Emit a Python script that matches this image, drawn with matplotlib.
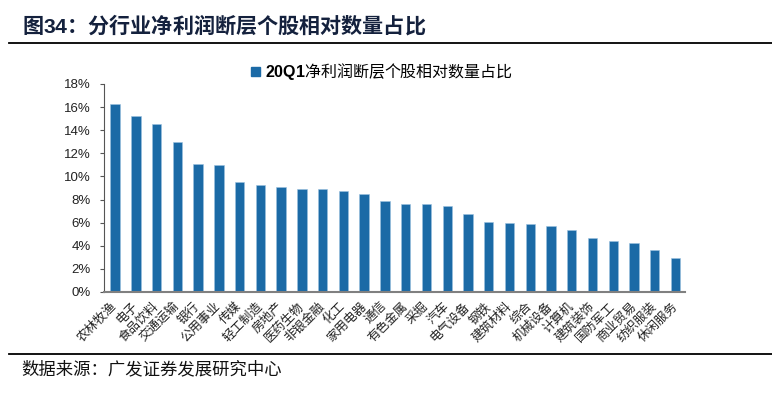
import numpy as np
import matplotlib

matplotlib.use('Agg')
import matplotlib.pyplot as plt
from matplotlib.patches import Patch
from matplotlib.ticker import PercentFormatter

plt.rcParams['font.family'] = ['Liberation Sans', 'Noto Sans CJK SC', 'DejaVu Sans']
plt.rcParams['axes.unicode_minus'] = False
plt.rcParams['mathtext.fontset'] = 'custom'
plt.rcParams['mathtext.bf'] = 'Liberation Sans:bold'

# 行业及20Q1净利润断层个股相对数量占比(%)
industries = ['农林牧渔', '电子', '食品饮料', '交通运输', '银行', '公用事业', '传媒',
              '轻工制造', '房地产', '医药生物', '非银金融', '化工', '家用电器', '通信',
              '有色金属', '采掘', '汽车', '电气设备', '钢铁', '建筑材料', '综合',
              '机械设备', '计算机', '建筑装饰', '国防军工', '商业贸易', '纺织服装', '休闲服务']
ratio = [16.3, 15.2, 14.5, 13.0, 11.1, 11.0, 9.5,
         9.25, 9.1, 8.95, 8.9, 8.7, 8.5, 7.85,
         7.65, 7.6, 7.45, 6.75, 6.1, 5.95, 5.9,
         5.75, 5.35, 4.65, 4.45, 4.2, 3.6, 2.95]
series_name = r'$\mathbf{20Q1}$净利润断层个股相对数量占比'

W, H = 772, 394
fig = plt.figure(figsize=(W / 100, H / 100), dpi=100)

bar_color = '#1B6AA6'
cjk = ['Noto Sans CJK SC', 'DejaVu Sans']

# 标题和上下分隔线
fig.text(22 / W, 1 - 25 / H, r'图$\mathbf{34}$：分行业净利润断层个股相对数量占比',
         family=cjk, weight='bold', fontsize=15.2, color='#14213D', va='center', ha='left')
fig.add_artist(plt.Line2D([9 / W, 1], [1 - 42.5 / H] * 2, color='black', lw=1.3))
fig.add_artist(plt.Line2D([9 / W, 1], [1 - 354 / H] * 2, color='black', lw=1.3))
fig.text(21 / W, 1 - 369 / H, '数据来源：广发证券发展研究中心',
         family=cjk, fontsize=12.5, color='#111111', va='center', ha='left')

ax = fig.add_axes([103.5 / W, 1 - 292 / H, (685 - 103.5) / W, (292 - 84) / H])
x = np.arange(len(industries))
ax.bar(x, ratio, width=0.45, color=bar_color, edgecolor='#9CC1E0', linewidth=0.4)

ax.set_xlim(-0.56, len(industries) - 0.54)
ax.set_ylim(0, 18)
ax.set_yticks(np.arange(0, 19, 2))
ax.yaxis.set_major_formatter(PercentFormatter(decimals=0))
ax.tick_params(axis='y', direction='out', length=3, width=0.8, color='#555555',
               labelsize=9.5, pad=6, labelcolor='#222222')
ax.set_xticks(x)
ax.set_xticklabels(industries, rotation=45, ha='right', va='center',
                   rotation_mode='anchor', family=cjk, fontsize=9, color='#222222')
ax.tick_params(axis='x', length=0, pad=9)

for s in ['top', 'right']:
    ax.spines[s].set_visible(False)
ax.spines['left'].set_color('#555555')
ax.spines['left'].set_linewidth(0.8)
ax.spines['bottom'].set_color('#808080')
ax.spines['bottom'].set_linewidth(1.5)

ax.legend(handles=[Patch(color=bar_color)], labels=[series_name],
          loc='center left', bbox_to_anchor=(251 / W, 1 - 71.5 / H),
          bbox_transform=fig.transFigure, frameon=False,
          prop={'family': cjk, 'size': 11.5}, handlelength=0.55, handleheight=0.55,
          handletextpad=0.3, borderpad=0, borderaxespad=0)

fig.savefig('out.png', dpi=100)
